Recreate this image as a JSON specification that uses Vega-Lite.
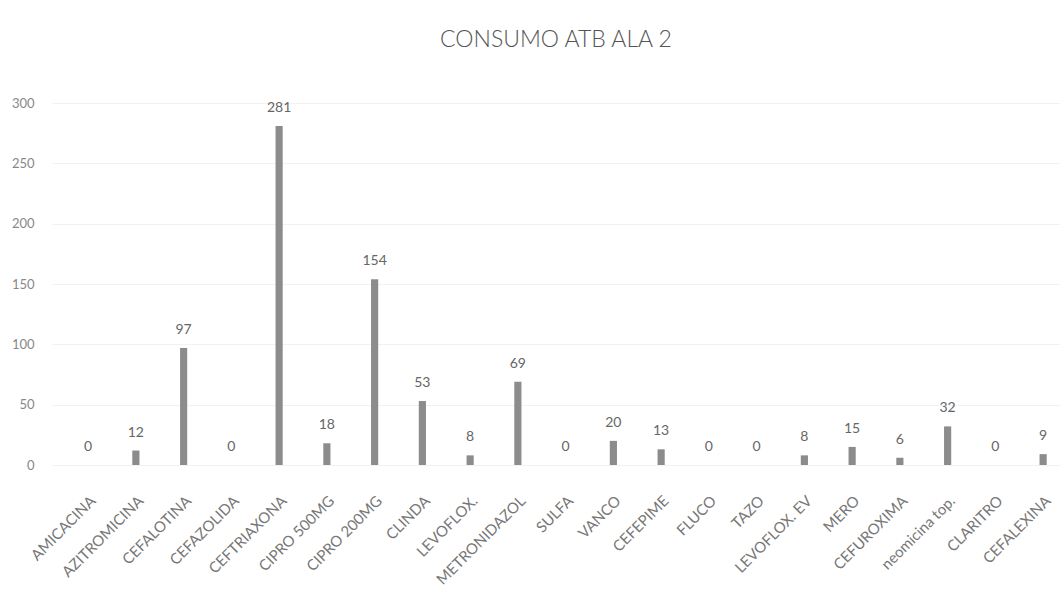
{
  "$schema": "https://vega.github.io/schema/vega-lite/v6.json",
  "autosize": {"type": "none"},
  "width": 1008,
  "height": 362,
  "padding": {"left": 52, "top": 103, "right": 0, "bottom": 134},
  "background": "#ffffff",
  "title": {"text": "CONSUMO ATB ALA 2", "font": "Lato", "fontSize": 23, "fontWeight": 300, "color": "#555555", "offset": 45, "anchor": "middle"},
  "data": {"values": [
    {"med": "AMICACINA", "v": 0},
    {"med": "AZITROMICINA", "v": 12},
    {"med": "CEFALOTINA", "v": 97},
    {"med": "CEFAZOLIDA", "v": 0},
    {"med": "CEFTRIAXONA", "v": 281},
    {"med": "CIPRO 500MG", "v": 18},
    {"med": "CIPRO 200MG", "v": 154},
    {"med": "CLINDA", "v": 53},
    {"med": "LEVOFLOX.", "v": 8},
    {"med": "METRONIDAZOL", "v": 69},
    {"med": "SULFA", "v": 0},
    {"med": "VANCO", "v": 20},
    {"med": "CEFEPIME", "v": 13},
    {"med": "FLUCO", "v": 0},
    {"med": "TAZO", "v": 0},
    {"med": "LEVOFLOX. EV", "v": 8},
    {"med": "MERO", "v": 15},
    {"med": "CEFUROXIMA", "v": 6},
    {"med": "neomicina top.", "v": 32},
    {"med": "CLARITRO", "v": 0},
    {"med": "CEFALEXINA", "v": 9}
  ]},
  "encoding": {
    "x": {"field": "med", "type": "nominal", "sort": null,
      "scale": {"paddingInner": 0.85, "paddingOuter": 0.48, "align": 0.71},
      "axis": {"title": null, "labelAngle": -45, "labelFont": "Lato", "labelFontSize": 15, "labelColor": "#777777", "domain": false, "ticks": false, "labelPadding": 28}},
    "y": {"field": "v", "type": "quantitative",
      "scale": {"domain": [0, 300]},
      "axis": {"title": null, "values": [0, 50, 100, 150, 200, 250, 300], "labelFont": "Lato", "labelFontSize": 13, "labelColor": "#888888", "domain": false, "ticks": false, "labelPadding": 18, "grid": true, "gridColor": "#f2f2f2"}}
  },
  "layer": [
    {"mark": {"type": "bar", "color": "#8c8c8c"}},
    {"mark": {"type": "text", "dy": -18, "font": "Lato", "fontSize": 14, "color": "#666666"},
     "encoding": {"text": {"field": "v", "type": "quantitative"}}}
  ],
  "config": {"view": {"stroke": null}}
}
